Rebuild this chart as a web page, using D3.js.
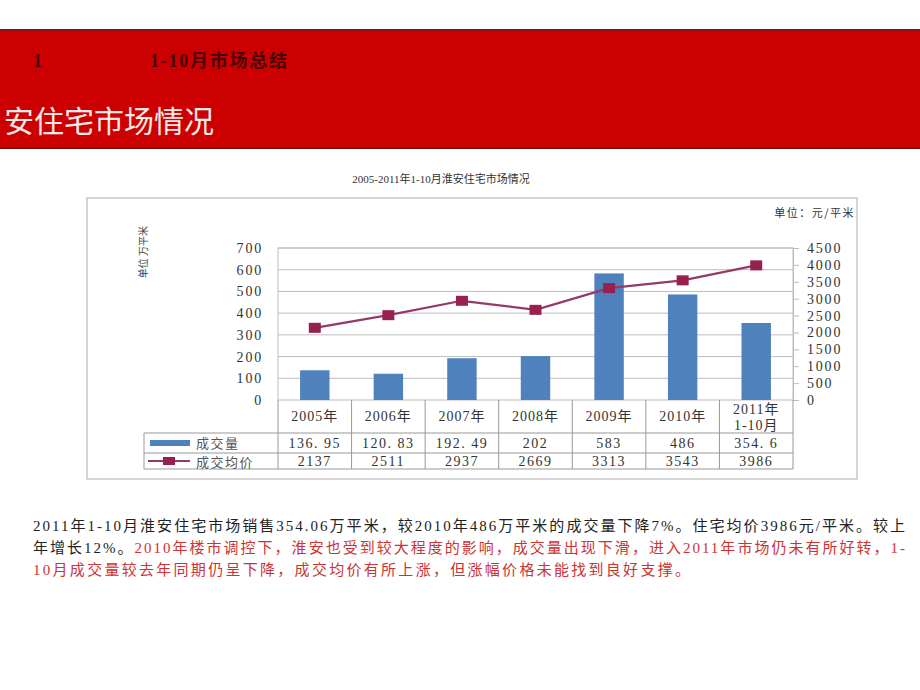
<!DOCTYPE html>
<html><head><meta charset="utf-8">
<script src="https://cdn.jsdelivr.net/npm/d3@7/dist/d3.min.js"></script>
<style>body{margin:0;background:#fff;}svg{display:block;}</style>
</head><body>
<svg id="c" width="920" height="690"></svg>
<script>
const categories = ["2005年","2006年","2007年","2008年","2009年","2010年","2011年\n1-10月"];
const volume = [136.95, 120.83, 192.49, 202, 583, 486, 354.6];
const price = [2137, 2511, 2937, 2669, 3313, 3543, 3986];
const leftTicks = [0,100,200,300,400,500,600,700];
const rightTicks = [0,500,1000,1500,2000,2500,3000,3500,4000,4500];
const seriesNames = ["成交量","成交均价"];

const svg = d3.select("#c");
const numFont = "'Liberation Serif','Noto Sans CJK SC',serif";
const cjk = "'Noto Sans CJK SC',sans-serif";

// banner
svg.append("rect").attr("x",0).attr("y",29).attr("width",920).attr("height",120).attr("fill","#cc0000");
svg.append("line").attr("x1",0).attr("x2",920).attr("y1",30).attr("y2",30).attr("stroke","#8a1010").attr("stroke-width",2);
svg.append("line").attr("x1",0).attr("x2",920).attr("y1",148).attr("y2",148).attr("stroke","#7a0808").attr("stroke-width",2);
svg.append("text").attr("x",33).attr("y",67).attr("font-family","'Liberation Serif','Noto Sans CJK SC',serif").attr("font-weight","bold")
  .attr("font-size",18).attr("fill","#4a0606").text("1");
svg.append("text").attr("x",150).attr("y",67).attr("font-family","'Liberation Serif','Noto Sans CJK SC',serif").attr("font-weight","bold")
  .attr("font-size",18).attr("fill","#4a0606").attr("textLength",137).attr("lengthAdjust","spacing").text("1-10月市场总结");
svg.append("text").attr("x",4).attr("y",132).attr("font-family",cjk)
  .attr("font-size",30).attr("fill","#fbe9e9").text("安住宅市场情况");

// chart title
svg.append("text").attr("x",441).attr("y",183).attr("text-anchor","middle").attr("font-family",numFont)
  .attr("font-size",11).attr("fill","#333").text("2005-2011年1-10月淮安住宅市场情况");

// frame
svg.append("rect").attr("x",87).attr("y",198).attr("width",770).attr("height",281).attr("fill","none").attr("stroke","#c8c8c8").attr("stroke-width",1.5);

const L=278, R=793, T=248, B=400;
const x = d3.scaleBand().domain(categories).range([L,R]).paddingInner(0.6).paddingOuter(0.3);
const xc = d3.scaleBand().domain(categories).range([L,R]);
const yL = d3.scaleLinear().domain([0,700]).range([B,T]);
const yR = d3.scaleLinear().domain([0,4500]).range([B,T]);

// grid
svg.append("g").selectAll("line").data(leftTicks.filter(d=>d>0)).join("line")
  .attr("x1",L).attr("x2",R).attr("y1",d=>yL(d)).attr("y2",d=>yL(d)).attr("stroke","#bdbdbd");
svg.append("rect").attr("x",L).attr("y",T).attr("width",R-L).attr("height",B-T).attr("fill","none").attr("stroke","#bdbdbd");

// axes
const gl = svg.append("g").attr("transform",`translate(${L},0)`)
  .call(d3.axisLeft(yL).tickValues(leftTicks).tickFormat(d3.format("d")).tickSize(0).tickPadding(15));
gl.select(".domain").remove();
gl.selectAll("text").attr("font-family",numFont).attr("font-size",14).attr("fill","#333").attr("letter-spacing",1.8);
const gr = svg.append("g").attr("transform",`translate(${R},0)`)
  .call(d3.axisRight(yR).tickValues(rightTicks).tickFormat(d3.format("d")).tickSize(6).tickPadding(8));
gr.select(".domain").attr("stroke","#bdbdbd");
gr.selectAll("line").attr("stroke","#bdbdbd");
gr.selectAll("text").attr("font-family",numFont).attr("font-size",14).attr("fill","#333").attr("letter-spacing",1.8);

// unit labels
svg.append("text").attr("x",855).attr("y",217).attr("text-anchor","end").attr("font-family",cjk)
  .attr("font-size",11).attr("fill","#333").attr("letter-spacing",1.5).text("单位：元/平米");
svg.append("text").attr("transform","translate(147,252) rotate(-90)").attr("text-anchor","middle").attr("font-family",cjk)
  .attr("font-size",10).attr("fill","#444").text("单位 万平米");

// bars
svg.append("g").selectAll("rect").data(volume).join("rect")
  .attr("x",(d,i)=>x(categories[i])).attr("width",x.bandwidth())
  .attr("y",d=>yL(d)).attr("height",d=>B-yL(d)).attr("fill","#4f81bd");

// line
const cx = i => xc(categories[i]) + xc.bandwidth()/2;
svg.append("path").datum(price).attr("fill","none").attr("stroke","#953a68").attr("stroke-width",2.2)
  .attr("d", d3.line().x((d,i)=>cx(i)).y(d=>yR(d)));
svg.append("g").selectAll("rect").data(price).join("rect")
  .attr("x",(d,i)=>cx(i)-6).attr("y",d=>yR(d)-5).attr("width",12).attr("height",10).attr("fill","#98204e");

// data table
const tT=400, r1=433, r2=453, r3=469, tL=144;
const tg = svg.append("g").attr("stroke","#999").attr("stroke-width",1);
tg.append("line").attr("x1",tL).attr("x2",R).attr("y1",r1).attr("y2",r1);
tg.append("line").attr("x1",tL).attr("x2",R).attr("y1",r2).attr("y2",r2);
tg.append("line").attr("x1",tL).attr("x2",R).attr("y1",r3).attr("y2",r3);
tg.append("line").attr("x1",tL).attr("x2",tL).attr("y1",r1).attr("y2",r3);
const edges = categories.map(c=>xc(c)).concat([R]);
tg.selectAll(".v").data(edges).join("line").attr("x1",d=>d).attr("x2",d=>d).attr("y1",tT).attr("y2",r3);

// header labels
categories.forEach((c,i)=>{
  const parts = c.split("\n");
  const t = svg.append("text").attr("text-anchor","middle").attr("font-family",numFont).attr("font-size",14).attr("fill","#333").attr("letter-spacing",1);
  if(parts.length===1){
    t.append("tspan").attr("x",cx(i)).attr("y",421).text(parts[0]);
  } else {
    t.append("tspan").attr("x",cx(i)).attr("y",414).text(parts[0]);
    t.append("tspan").attr("x",cx(i)).attr("y",430).text(parts[1]);
  }
});
const fmtVol = d => String(d).replace(".", ". ");
volume.forEach((d,i)=>{
  svg.append("text").attr("x",cx(i)).attr("y",r1+15).attr("text-anchor","middle").attr("font-family",numFont)
    .attr("font-size",14).attr("fill","#333").attr("letter-spacing",1.5).text(fmtVol(d));
});
price.forEach((d,i)=>{
  svg.append("text").attr("x",cx(i)).attr("y",r2+13).attr("text-anchor","middle").attr("font-family",numFont)
    .attr("font-size",14).attr("fill","#333").attr("letter-spacing",1.5).text(d);
});
// legend in table
svg.append("rect").attr("x",150).attr("y",440).attr("width",40).attr("height",6).attr("fill","#4f81bd");
svg.append("line").attr("x1",148).attr("x2",190).attr("y1",461).attr("y2",461).attr("stroke","#953a68").attr("stroke-width",2);
svg.append("rect").attr("x",163).attr("y",457).attr("width",12).attr("height",8).attr("fill","#98204e");
svg.append("text").attr("x",196).attr("y",448).attr("font-family",cjk).attr("font-size",13).attr("fill","#555").attr("letter-spacing",1.5).text(seriesNames[0]);
svg.append("text").attr("x",196).attr("y",467).attr("font-family",cjk).attr("font-size",13).attr("fill","#555").attr("letter-spacing",1.5).text(seriesNames[1]);

// paragraph
const pf = "'Liberation Serif','Noto Sans CJK SC',serif";
const red = "#cc3333";
svg.append("text").attr("x",33).attr("y",531).attr("font-family",pf).attr("font-size",15).attr("fill","#222")
  .attr("textLength",872).attr("lengthAdjust","spacing")
  .text("2011年1-10月淮安住宅市场销售354.06万平米，较2010年486万平米的成交量下降7%。住宅均价3986元/平米。较上");
const p2 = svg.append("text").attr("x",33).attr("y",553).attr("font-family",pf).attr("font-size",15)
  .attr("textLength",872).attr("lengthAdjust","spacing");
p2.append("tspan").attr("fill","#222").text("年增长12%。");
p2.append("tspan").attr("fill",red).text("2010年楼市调控下，淮安也受到较大程度的影响，成交量出现下滑，进入2011年市场仍未有所好转，1-");
svg.append("text").attr("x",33).attr("y",575).attr("font-family",pf).attr("font-size",15).attr("fill",red)
  .attr("textLength",657).attr("lengthAdjust","spacing")
  .text("10月成交量较去年同期仍呈下降，成交均价有所上涨，但涨幅价格未能找到良好支撑。");
</script>
</body></html>
